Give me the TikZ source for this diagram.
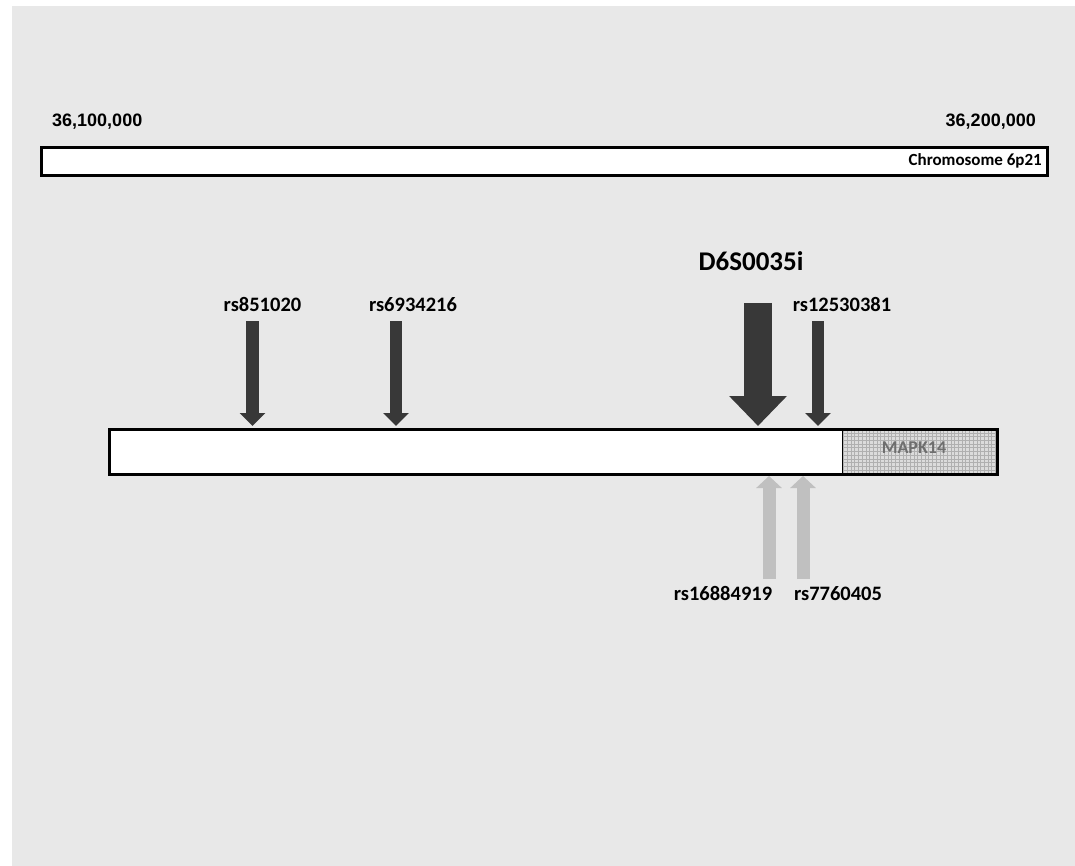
\documentclass[tikz,border=0pt]{standalone}
\usepackage{fontspec}
\setmainfont{Carlito}
\newfontfamily\arialfont{Liberation Sans}
\usetikzlibrary{arrows.meta}
\definecolor{bggray}{HTML}{E8E8E8}
\definecolor{snpdark}{HTML}{383838}
\definecolor{snplight}{HTML}{C0C0C0}
\definecolor{genefill}{HTML}{DCDCDC}
\definecolor{genegrid}{HTML}{B0B0B0}
\definecolor{genetext}{HTML}{6E6E6E}
\tikzset{
  snplabel/.style={font=\bfseries\fontsize{20.5}{22}\selectfont, inner sep=0pt, anchor=base},
  poslabel/.style={font=\arialfont\bfseries\fontsize{18}{20}\selectfont, inner sep=0pt},
  snpdown/.style={draw=snpdark, line width=12.5pt, -{Triangle[width=25pt,length=13pt]}},
  snpup/.style={draw=snplight, line width=13pt, -{Triangle[width=25pt,length=12pt]}},
  barbox/.style={draw=black, line width=3pt, fill=white},
}
\begin{document}
\begin{tikzpicture}[x=1pt,y=-1pt]
  \useasboundingbox (0,0) rectangle (1075,866);
  \fill[bggray] (12,6) rectangle (1075,866);

  % chromosome bar
  \node[poslabel, anchor=base west] (pos1) at (52,126.5) {36,100,000};
  \node[poslabel, anchor=base east] (pos2) at (1036,126.5) {36,200,000};
  \draw[barbox] (41,148) rectangle (1047,176);
  \node[font=\bfseries\fontsize{17}{18}\selectfont, inner sep=0pt, anchor=base east] (chrom) at (1042,166) {Chromosome 6p21};

  % gene region
  \fill[white] (109,429) rectangle (842,474);
  \fill[genefill] (842,429) rectangle (997,474);
  \begin{scope}
    \clip (842,429) rectangle (997,474);
    \draw[genegrid, line width=0.5pt, step=3.7pt] (842,429) grid (997,474);
  \end{scope}
  \draw[line width=1pt] (842,429) -- (842,474);
  \draw[draw=black, line width=3pt] (109,429) rectangle (997,474);
  \coordinate (gene) at (553,451.5);
  \node[font=\bfseries\fontsize{18}{20}\selectfont, text=genetext, inner sep=0pt, anchor=base] (mapk) at (914,453) {MAPK14};

  % SNPs above
  \node[snplabel] (rsA) at (262.5,312) {rs851020};
  \node[snplabel] (rsB) at (413,312) {rs6934216};
  \node[snplabel] (rsC) at (842,312) {rs12530381};
  \node[snplabel, font=\bfseries\fontsize{27}{28}\selectfont] (msat) at (751,271) {D6S0035i};

  \coordinate (aTop) at (252.5,321);  \coordinate (aTip) at (252.5,426);
  \coordinate (bTop) at (396,321);    \coordinate (bTip) at (396,426);
  \coordinate (cTop) at (818,321);    \coordinate (cTip) at (818,426);
  \coordinate (mTop) at (758,303);    \coordinate (mTip) at (758,426);

  \draw[snpdown] (aTop) -- (aTip);
  \draw[snpdown] (bTop) -- (bTip);
  \draw[snpdown] (cTop) -- (cTip);
  \draw[snpdown, line width=28pt, -{Triangle[width=56pt,length=30pt]}] (mTop) -- (mTip);

  % SNPs below
  \node[snplabel] (rsD) at (723,600) {rs16884919};
  \node[snplabel] (rsE) at (838,600) {rs7760405};

  \coordinate (dBot) at (769,579);  \coordinate (dTip) at (769,476);
  \coordinate (eBot) at (803,579);  \coordinate (eTip) at (803,476);

  \draw[snpup] (dBot) -- (dTip);
  \draw[snpup] (eBot) -- (eTip);
\end{tikzpicture}
\end{document}
